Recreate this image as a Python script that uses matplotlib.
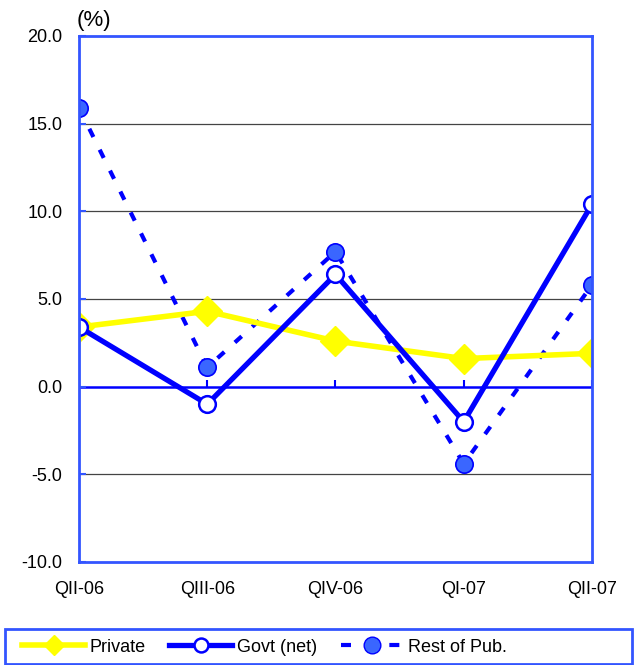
import numpy as np
import matplotlib.pyplot as plt
from matplotlib.lines import Line2D
from matplotlib.patches import Rectangle
from matplotlib import markers

plt.rcParams['font.family'] = ['Liberation Sans', 'DejaVu Sans']

quarters = ['QII-06', 'QIII-06', 'QIV-06', 'QI-07', 'QII-07']
private = [3.4, 4.3, 2.6, 1.6, 1.9]
govt_net = [3.4, -1.0, 6.4, -2.0, 10.4]
rest_pub = [15.9, 1.1, 7.7, -4.4, 5.8]

yticks = [-10, -5, 0, 5, 10, 15, 20]

spine_blue = '#3355ff'
line_blue = '#0000ff'
dot_blue = '#3a66ff'
yellow = '#ffff00'

fig = plt.figure(figsize=(6.36, 6.65), dpi=100)
ax = fig.add_axes([0.1242, 0.1549, 0.8066, 0.791])

x = np.arange(len(quarters))

# horizontal reference lines
for v in yticks:
    if v in (-10, 20):
        continue
    if v == 0:
        ax.axhline(v, color=line_blue, lw=1.8, zorder=1)
    else:
        ax.axhline(v, color='#444444', lw=0.9, zorder=1)

# small tick marks along the zero line
ax.plot(x, np.zeros(len(x)), linestyle='none', marker=markers.TICKUP,
        markersize=5, markeredgewidth=1.5, color=line_blue, zorder=1)

ax.plot(x, rest_pub, color=line_blue, lw=3, linestyle=(0, (2.2, 3.4)),
        marker='o', markersize=12.5, markerfacecolor=dot_blue,
        markeredgecolor=line_blue, markeredgewidth=1.2, zorder=3)
ax.plot(x, private, color=yellow, lw=4, marker='D', markersize=15.5,
        markerfacecolor=yellow, markeredgecolor=yellow, zorder=4)
ax.plot(x, govt_net, color=line_blue, lw=3.8, marker='o', markersize=12,
        markerfacecolor='white', markeredgecolor=line_blue,
        markeredgewidth=1.8, zorder=5)

ax.set_xlim(0, len(quarters) - 1)
ax.set_ylim(-10, 20)
ax.set_yticks(yticks)
ax.set_yticklabels([f'{v:.1f}' for v in yticks], fontsize=13)
ax.set_xticks(x)
ax.set_xticklabels(quarters, fontsize=13)
ax.tick_params(axis='x', length=0, pad=14)
ax.tick_params(axis='y', direction='in', length=5, color=spine_blue,
               width=1.5, pad=12)

for s in ax.spines.values():
    s.set_color(spine_blue)
    s.set_linewidth(2)
    s.set_zorder(6)

ax.text(-0.004, 1.01, '(%)', transform=ax.transAxes, fontsize=16,
        ha='left', va='bottom')

# legend strip at the bottom
fig.patches.append(Rectangle((0.008, 0.002), 0.986, 0.052,
                             transform=fig.transFigure, fill=False,
                             edgecolor=spine_blue, lw=2))
handles = [
    Line2D([], [], color=yellow, lw=4, marker='D', markersize=10,
           markerfacecolor=yellow, markeredgecolor=yellow),
    Line2D([], [], color=line_blue, lw=3.8, marker='o', markersize=10,
           markerfacecolor='white', markeredgecolor=line_blue,
           markeredgewidth=1.8),
    Line2D([], [], color=line_blue, lw=3, linestyle=(0, (2.4, 3.4)),
           marker='o', markersize=12, markerfacecolor=dot_blue,
           markeredgecolor=line_blue),
]
fig.legend(handles, ['Private', 'Govt (net)', 'Rest of Pub.'],
           loc='center left', bbox_to_anchor=(0.009, 0.027), ncol=3,
           fontsize=13, frameon=False, handlelength=3.5,
           handletextpad=0.25, columnspacing=1.3,
           bbox_transform=fig.transFigure)

fig.savefig('out.png', dpi=100)
